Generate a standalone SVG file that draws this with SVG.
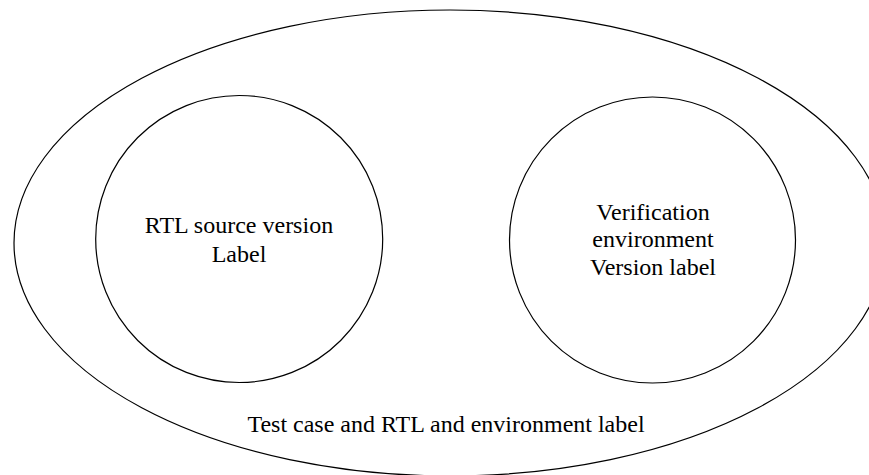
<svg xmlns="http://www.w3.org/2000/svg" width="869" height="475" viewBox="0 0 869 475">
<style>
.shape{fill:none;stroke:#000;stroke-width:1.2}
.lbl{font-family:"Liberation Serif","Times New Roman",serif;font-size:24px;fill:#000;text-anchor:middle}
</style>
<rect width="869" height="475" fill="#fff"/>
<g id="outer">
<ellipse class="shape" cx="450" cy="243" rx="436" ry="233"/>
<text class="lbl" x="446" y="432">Test case and RTL and environment label</text>
</g>
<g id="rtl">
<circle class="shape" cx="239.2" cy="239" r="143.5"/>
<text class="lbl" x="239" y="233">RTL source version</text>
<text class="lbl" x="239" y="261.5">Label</text>
</g>
<g id="verif">
<circle class="shape" cx="652.5" cy="240" r="143"/>
<text class="lbl" x="653" y="220">Verification</text>
<text class="lbl" x="653" y="247">environment</text>
<text class="lbl" x="653" y="275">Version label</text>
</g>
<g id="connectors"></g>
</svg>
